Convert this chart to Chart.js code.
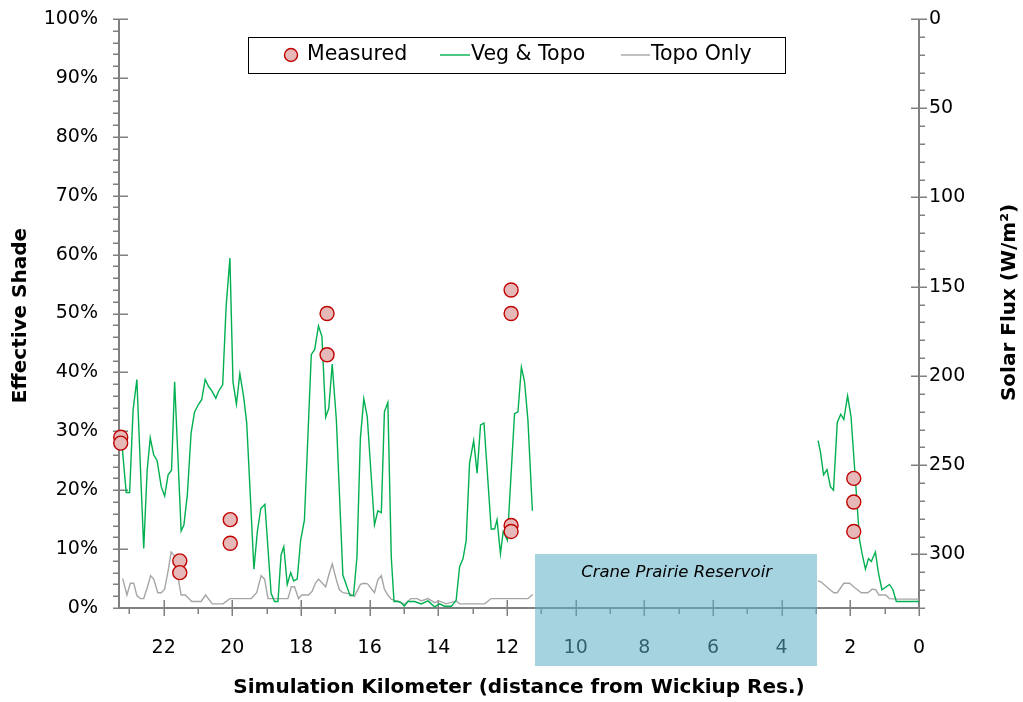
<!DOCTYPE html>
<html>
<head>
<meta charset="utf-8">
<script src="https://cdn.jsdelivr.net/npm/chart.js@4.4.1/dist/chart.umd.min.js"></script>
<style>
  html, body { margin: 0; padding: 0; background: #ffffff; }
  #wrap { width: 1023px; height: 702px; position: relative; }
</style>
</head>
<body>
<div id="wrap"><canvas id="shadeChart" width="1023" height="702"></canvas></div>
<script>
// ---- Axis tick values ----
const kmTicks = [0, 2, 4, 6, 8, 10, 12, 14, 16, 18, 20, 22];
const shadeTicks = [0, 10, 20, 30, 40, 50, 60, 70, 80, 90, 100];
const fluxTicks = [0, 50, 100, 150, 200, 250, 300];

// ---- Series names ----
const seriesNames = ['Measured', 'Veg & Topo', 'Topo Only'];

// ---- Measured effective shade (km, %) ----
const measuredKm    = [23.25, 23.25, 21.53, 21.53, 20.06, 20.06, 17.24, 17.24, 11.88, 11.88, 11.88, 11.88, 1.9, 1.9, 1.9];
const measuredShade = [29, 28, 8, 6, 15, 11, 50, 43, 54, 50, 14, 13, 22, 18, 13];

// ---- Simulated shade, vegetation + topography: upstream of reservoir ----
const vegKmUp = [23.22, 23.09, 22.99, 22.89, 22.78, 22.58, 22.48, 22.39, 22.29, 22.19, 22.07, 21.97, 21.87, 21.77, 21.68,
  21.49, 21.41, 21.31, 21.2, 21.1, 20.99, 20.89, 20.79, 20.69, 20.6, 20.48, 20.4, 20.28, 20.18, 20.07,
  19.98, 19.88, 19.78, 19.67, 19.58, 19.37, 19.27, 19.17, 19.05, 18.87, 18.77, 18.67, 18.58, 18.5, 18.4,
  18.3, 18.21, 18.11, 18.01, 17.9, 17.7, 17.6, 17.49, 17.39, 17.28, 17.19, 17.09, 16.97, 16.78, 16.57,
  16.47, 16.37, 16.27, 16.17, 16.07, 15.86, 15.76, 15.66, 15.57, 15.47, 15.37, 15.29, 15.16, 15.08, 14.99,
  14.89, 14.69, 14.5, 14.3, 14.11, 13.96, 13.82, 13.62, 13.48, 13.38, 13.28, 13.19, 13.09, 12.97, 12.87,
  12.77, 12.67, 12.46, 12.36, 12.29, 12.19, 12.11, 11.99, 11.78, 11.68, 11.58, 11.49, 11.39, 11.26];
const vegShadeUp = [28.2, 19.6, 19.6, 33.6, 38.8, 10.1, 23.4, 28.9, 26, 25, 20.6, 19, 22.6, 23.4, 38.4,
  13.1, 14.1, 19.2, 29.7, 33.3, 34.5, 35.4, 38.8, 37.6, 36.9, 35.6, 36.8, 37.9, 51.2, 59.4,
  38.4, 34.6, 39.8, 35.9, 31.4, 6.6, 13, 16.9, 17.6, 2.5, 1.1, 1.1, 9, 10.4, 4,
  6, 4.6, 4.9, 11.5, 14.9, 43, 43.9, 47.9, 46.1, 32.4, 33.9, 41.4, 32, 5.6, 2.1,
  2.1, 8.6, 28.8, 35.5, 32.5, 14.1, 16.5, 16.2, 33.3, 34.9, 8.6, 1.1, 1.1, 0.9, 0.3,
  1.1, 1.1, 0.7, 1.2, 0.2, 0.7, 0.3, 0.3, 1.3, 7, 8.4, 11.4, 24.6, 28.4, 22.9,
  31.1, 31.4, 13.4, 13.4, 15, 9.2, 13, 11.5, 33, 33.3, 40.9, 38.5, 31.9, 16.5];

// ---- Simulated shade, vegetation + topography: downstream of reservoir ----
const vegKmDown = [2.94, 2.87, 2.78, 2.68, 2.58, 2.49, 2.38, 2.28, 2.19, 2.08, 1.98, 1.73, 1.66, 1.56, 1.47,
  1.39, 1.27, 1.18, 1.08, 0.95, 0.86, 0.76, 0.66, 0.45, 0.2, 0];
const vegShadeDown = [28.4, 26.5, 22.6, 23.5, 20.6, 20, 31.5, 32.9, 32, 36, 32.5, 11.5, 9.3, 6.6, 8.4,
  7.9, 9.5, 5.9, 3.1, 3.6, 4, 3.1, 1.1, 1.1, 1.1, 1.1];

// ---- Simulated shade, topography only: upstream of reservoir ----
const topoKmUp = [23.19, 23.07, 22.97, 22.87, 22.78, 22.68, 22.58, 22.48, 22.38, 22.29, 22.17, 22.07, 21.97, 21.87, 21.78,
  21.66, 21.56, 21.49, 21.37, 21.18, 20.91, 20.78, 20.58, 20.27, 20.07, 19.45, 19.29, 19.16, 19.06, 18.96,
  18.38, 18.28, 18.19, 18.07, 17.98, 17.78, 17.68, 17.58, 17.49, 17.28, 17.19, 17.09, 16.97, 16.88, 16.78,
  16.57, 16.44, 16.27, 16.17, 16.06, 15.86, 15.76, 15.66, 15.57, 15.47, 15.37, 15.27, 15.16, 14.99, 14.8,
  14.61, 14.5, 14.3, 14.11, 13.98, 13.77, 13.48, 13.38, 12.65, 12.46, 11.39, 11.25];
const topoShadeUp = [5, 2.2, 4.2, 4.2, 2.1, 1.6, 1.6, 3.4, 5.5, 4.9, 2.6, 2.6, 3.2, 6.3, 9.5,
  8.7, 4.5, 2.2, 2.2, 1.1, 1.1, 2.2, 0.7, 0.7, 1.6, 1.6, 2.6, 5.5, 4.9, 1.6,
  1.6, 3.6, 3.6, 1.6, 2.2, 2.2, 2.8, 4.2, 4.9, 3.6, 5.6, 7.5, 4.8, 3.1, 2.6,
  2.4, 2, 4, 4.2, 4.1, 2.6, 4.8, 5.5, 3.2, 2.2, 1.5, 1.3, 1.1, 0.6, 1.6,
  1.6, 1.2, 1.6, 0.9, 1.2, 0.7, 1.2, 0.7, 0.7, 1.6, 1.6, 2.3];

// ---- Simulated shade, topography only: downstream of reservoir ----
const topoKmDown = [2.94, 2.85, 2.65, 2.48, 2.38, 2.19, 2.02, 1.86, 1.68, 1.49, 1.37, 1.26, 1.17, 0.97, 0.86, 0.66, 0];
const topoShadeDown = [4.6, 4.4, 3.4, 2.6, 2.6, 4.2, 4.2, 3.4, 2.6, 2.6, 3.2, 3.1, 2.2, 2.2, 1.6, 1.5, 1.5];

// ---- Reservoir reach (km) and label ----
const reservoirName = 'Crane Prairie Reservoir';
const reservoirFromKm = 11.17;
const reservoirToKm = 2.95;
const reservoirTopShade = 9.2;

// ---- Styling ----
const FONT = "'DejaVu Sans', Verdana, sans-serif";
const AXIS_GREY = '#808080';
const VEG_GREEN = '#00B050';
const TOPO_GREY = '#A6A6A6';
const DOT_FILL = '#E6B9B8';
const DOT_EDGE = '#C00000';
const PLOT_TOP = 19;

function toPoints(xs, ys) {
  return xs.map((x, i) => ({ x: x, y: ys[i] }));
}

function lineSet(label, xs, ys, color) {
  return {
    label: label,
    data: toPoints(xs, ys),
    showLine: true,
    borderColor: color,
    borderWidth: 1.4,
    pointRadius: 0,
    pointHoverRadius: 0,
    tension: 0,
    fill: false,
    yAxisID: 'y'
  };
}

// Pin the top of the plot area so the value axes span the full height
const plotFrame = {
  id: 'plotFrame',
  afterLayout(chart) {
    const a = chart.chartArea;
    a.top = PLOT_TOP;
    a.height = a.bottom - a.top;
    ['y', 'y2'].forEach(id => {
      const s = chart.scales[id];
      s.top = PLOT_TOP;
      s.height = s.bottom - s.top;
      s._labelItems = null;
      s._gridLineItems = null;
      s.configure();
    });
  }
};

// Tick marks and axis lines: major ticks cross the axis, minor ticks sit outside
const axisMarks = {
  id: 'axisMarks',
  beforeDatasetsDraw(chart) {
    const { ctx, chartArea: a, scales } = chart;
    const L = a.left, R = a.right, T = a.top, B = a.bottom;
    ctx.save();
    ctx.strokeStyle = AXIS_GREY;
    ctx.lineCap = 'butt';

    ctx.lineWidth = 1.5;
    ctx.beginPath();
    for (let v = 0; v <= 100; v += 2) {
      const y = Math.round(scales.y.getPixelForValue(v)) + 0.25;
      if (v % 10 === 0) { ctx.moveTo(L - 6, y); ctx.lineTo(L + 9, y); }
      else { ctx.moveTo(L - 6, y); ctx.lineTo(L, y); }
    }
    for (let v = 0; v <= 330; v += 10) {
      const y = Math.round(scales.y2.getPixelForValue(v)) + 0.25;
      if (v % 50 === 0) { ctx.moveTo(R - 8, y); ctx.lineTo(R + 8, y); }
      else { ctx.moveTo(R, y); ctx.lineTo(R + 6, y); }
    }
    for (let k = 0; k <= 23; k += 1) {
      const x = Math.round(scales.x.getPixelForValue(k)) + 0.25;
      if (k % 2 === 0) { ctx.moveTo(x, B - 8); ctx.lineTo(x, B + 8); }
      else { ctx.moveTo(x, B); ctx.lineTo(x, B + 6); }
    }
    ctx.stroke();

    ctx.lineWidth = 2;
    ctx.beginPath();
    ctx.moveTo(L, T); ctx.lineTo(L, B);
    ctx.moveTo(R, T); ctx.lineTo(R, B);
    ctx.moveTo(L - 1, B); ctx.lineTo(R + 1, B);
    ctx.stroke();
    ctx.restore();
  }
};

// Axis titles
const axisTitles = {
  id: 'axisTitles',
  afterDraw(chart) {
    const { ctx, chartArea: a } = chart;
    ctx.save();
    ctx.fillStyle = '#000';
    ctx.font = 'bold 20px ' + FONT;
    ctx.textAlign = 'center';
    ctx.textBaseline = 'middle';
    ctx.fillText('Simulation Kilometer (distance from Wickiup Res.)', (a.left + a.right) / 2, a.bottom + 80);

    ctx.save();
    ctx.translate(a.left - 98, (a.top + a.bottom) / 2 + 2);
    ctx.rotate(-Math.PI / 2);
    ctx.fillText('Effective Shade', 0, 0);
    ctx.restore();

    ctx.save();
    ctx.translate(a.right + 91, (a.top + a.bottom) / 2 - 11);
    ctx.rotate(-Math.PI / 2);
    ctx.fillText('Solar Flux (W/m\u00B2)', 0, 0);
    ctx.restore();
    ctx.restore();
  }
};

// Reservoir band laid over the axis below it
const reservoirBand = {
  id: 'reservoirBand',
  afterDraw(chart) {
    const { ctx, chartArea: a, scales } = chart;
    const x1 = scales.x.getPixelForValue(reservoirFromKm);
    const x2 = scales.x.getPixelForValue(reservoirToKm);
    const top = scales.y.getPixelForValue(reservoirTopShade);
    const bottom = a.bottom + 58;
    ctx.save();
    ctx.fillStyle = 'rgba(92, 174, 198, 0.55)';
    ctx.fillRect(Math.round(x1), Math.round(top), Math.round(x2 - x1), Math.round(bottom - top));
    ctx.fillStyle = '#000';
    ctx.font = 'italic 16.5px ' + FONT;
    ctx.textAlign = 'center';
    ctx.textBaseline = 'middle';
    ctx.fillText(reservoirName, (x1 + x2) / 2, top + 19);
    ctx.restore();
  }
};

// Boxed legend inside the plot
const boxedLegend = {
  id: 'boxedLegend',
  afterDraw(chart) {
    const { ctx } = chart;
    const box = { left: 248, top: 37, right: 785, bottom: 73 };
    const cy = (box.top + box.bottom) / 2;
    ctx.save();
    ctx.fillStyle = '#fff';
    ctx.fillRect(box.left, box.top, box.right - box.left, box.bottom - box.top);
    ctx.strokeStyle = '#000';
    ctx.lineWidth = 1;
    ctx.strokeRect(box.left + 0.5, box.top + 0.5, box.right - box.left, box.bottom - box.top);

    ctx.beginPath();
    ctx.arc(291, cy, 6.5, 0, Math.PI * 2);
    ctx.fillStyle = DOT_FILL;
    ctx.fill();
    ctx.strokeStyle = DOT_EDGE;
    ctx.lineWidth = 1.4;
    ctx.stroke();

    ctx.lineWidth = 1.4;
    ctx.strokeStyle = VEG_GREEN;
    ctx.beginPath(); ctx.moveTo(440, cy); ctx.lineTo(470, cy); ctx.stroke();
    ctx.strokeStyle = TOPO_GREY;
    ctx.beginPath(); ctx.moveTo(621, cy); ctx.lineTo(650, cy); ctx.stroke();

    ctx.fillStyle = '#000';
    ctx.font = '20.5px ' + FONT;
    ctx.textAlign = 'left';
    ctx.textBaseline = 'middle';
    ctx.fillText(seriesNames[0], 307, cy);
    ctx.fillText(seriesNames[1], 471, cy);
    ctx.fillText(seriesNames[2], 651, cy);
    ctx.restore();
  }
};

const tickFont = { family: FONT, size: 19 };

new Chart(document.getElementById('shadeChart'), {
  type: 'scatter',
  data: {
    datasets: [
      {
        label: seriesNames[0],
        data: toPoints(measuredKm, measuredShade),
        showLine: false,
        pointRadius: 7,
        pointHoverRadius: 7,
        pointBackgroundColor: DOT_FILL,
        pointBorderColor: DOT_EDGE,
        pointBorderWidth: 1.4,
        clip: false,
        yAxisID: 'y',
        order: 0
      },
      Object.assign(lineSet(seriesNames[1], vegKmUp, vegShadeUp, VEG_GREEN), { order: 1 }),
      Object.assign(lineSet(seriesNames[1], vegKmDown, vegShadeDown, VEG_GREEN), { order: 1 }),
      Object.assign(lineSet(seriesNames[2], topoKmUp, topoShadeUp, TOPO_GREY), { order: 2 }),
      Object.assign(lineSet(seriesNames[2], topoKmDown, topoShadeDown, TOPO_GREY), { order: 2 })
    ]
  },
  options: {
    responsive: false,
    animation: false,
    layout: { autoPadding: false, padding: { left: 0, right: 0, top: PLOT_TOP, bottom: 0 } },
    plugins: { legend: { display: false }, tooltip: { enabled: false } },
    scales: {
      x: {
        type: 'linear',
        position: 'bottom',
        reverse: true,
        min: 0,
        max: 23.3,
        afterBuildTicks(s) { s.ticks = kmTicks.map(v => ({ value: v })); },
        afterFit(s) { s.height = 94; },
        grid: { display: false, drawTicks: false },
        border: { display: false },
        ticks: { font: tickFont, color: '#000', padding: 29, maxRotation: 0, autoSkip: false }
      },
      y: {
        type: 'linear',
        position: 'left',
        min: 0,
        max: 100,
        afterBuildTicks(s) { s.ticks = shadeTicks.map(v => ({ value: v })); },
        afterFit(s) { s.width = 119; },
        grid: { display: false, drawTicks: false },
        border: { display: false },
        ticks: { font: tickFont, color: '#000', padding: 21, callback: v => v + '%' }
      },
      y2: {
        type: 'linear',
        position: 'right',
        reverse: true,
        min: 0,
        max: 330,
        afterBuildTicks(s) { s.ticks = fluxTicks.map(v => ({ value: v })); },
        afterFit(s) { s.width = 104; },
        grid: { display: false, drawTicks: false },
        border: { display: false },
        ticks: { font: tickFont, color: '#000', padding: 10 }
      }
    }
  },
  plugins: [plotFrame, axisMarks, axisTitles, reservoirBand, boxedLegend]
});
</script>
</body>
</html>
